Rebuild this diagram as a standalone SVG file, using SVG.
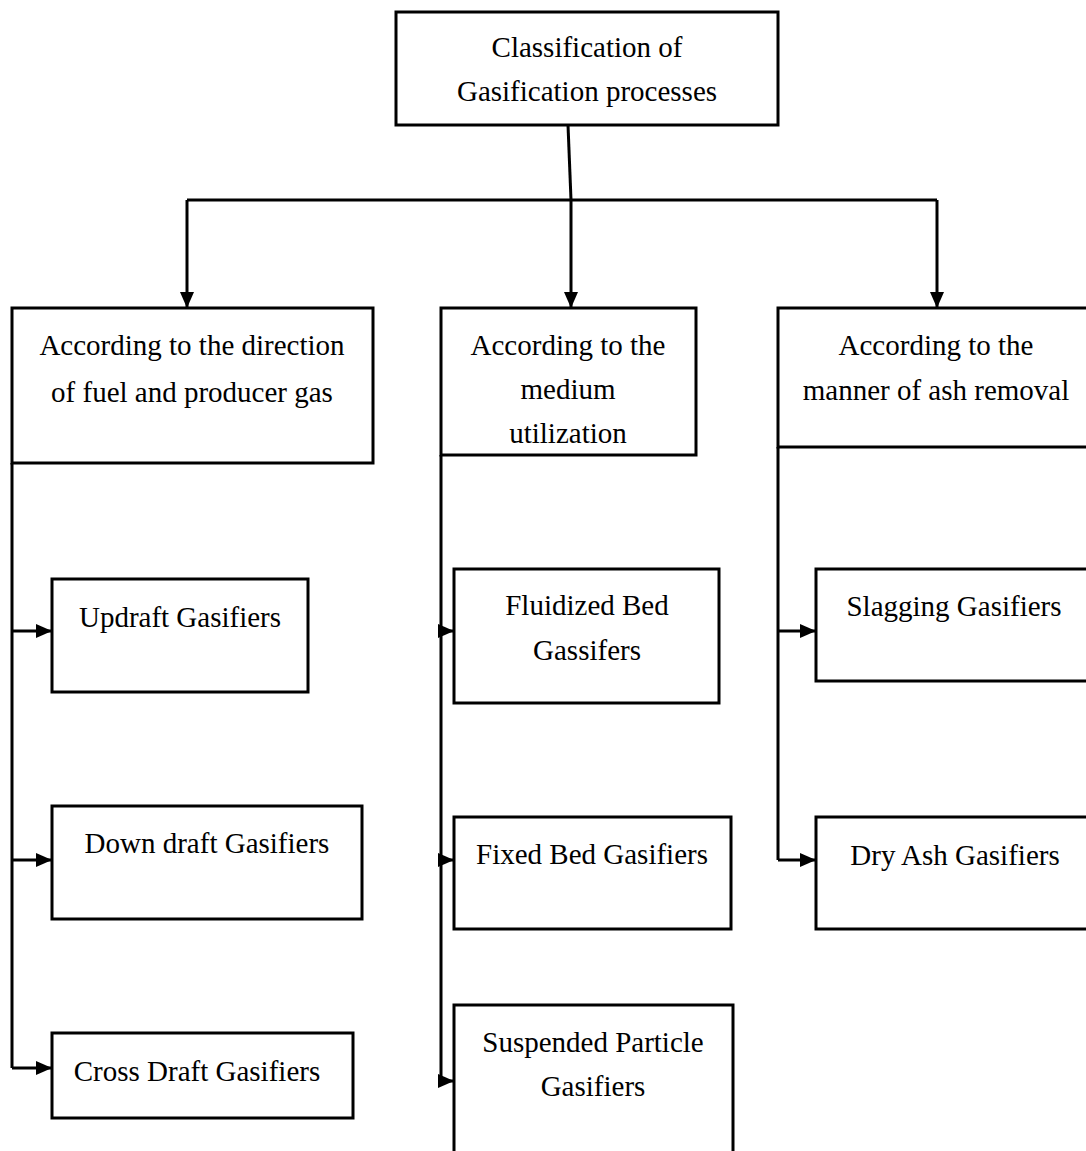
<svg xmlns="http://www.w3.org/2000/svg" width="1086" height="1151" viewBox="0 0 1086 1151">
<style>
.box{fill:#fff;stroke:#000;stroke-width:3}
.t{font-family:"Liberation Serif","Times New Roman","DejaVu Serif",serif;font-size:29px;fill:#000;text-anchor:middle}
.c{fill:none;stroke:#000;stroke-width:3}
</style>
<defs>
<marker id="ah" markerWidth="16" markerHeight="14" refX="15" refY="7" orient="auto" markerUnits="userSpaceOnUse">
<path d="M0,0 L16,7 L0,14 Z" fill="#000"/>
</marker>
</defs>
<rect width="1086" height="1151" fill="#fff"/>
<g id="connectors">
<path class="c" d="M568,125 L571,200"/>
<path class="c" d="M187,200 L937,200"/>
<path class="c" d="M187,200 L187,307" marker-end="url(#ah)"/>
<path class="c" d="M571,200 L571,307" marker-end="url(#ah)"/>
<path class="c" d="M937,200 L937,307" marker-end="url(#ah)"/>
<path class="c" d="M12,463 L12,1068"/>
<path class="c" d="M12,631 L51,631" marker-end="url(#ah)"/>
<path class="c" d="M12,860 L51,860" marker-end="url(#ah)"/>
<path class="c" d="M12,1068 L51,1068" marker-end="url(#ah)"/>
<path class="c" d="M441,455 L441,1081"/>
<path class="c" d="M441,631 L453,631" marker-end="url(#ah)"/>
<path class="c" d="M441,860 L453,860" marker-end="url(#ah)"/>
<path class="c" d="M441,1081 L453,1081" marker-end="url(#ah)"/>
<path class="c" d="M778,447 L778,860"/>
<path class="c" d="M778,631 L815,631" marker-end="url(#ah)"/>
<path class="c" d="M778,860 L815,860" marker-end="url(#ah)"/>
</g>
<g id="root">
<rect class="box" x="396" y="12" width="382" height="113"/>
<text class="t" x="587" y="57">Classification of</text>
<text class="t" x="587" y="101">Gasification processes</text>
</g>
<g id="direction">
<rect class="box" x="12" y="308" width="361" height="155"/>
<text class="t" x="192" y="355">According to the direction</text>
<text class="t" x="192" y="402">of fuel and producer gas</text>
</g>
<g id="medium">
<rect class="box" x="441" y="308" width="255" height="147"/>
<text class="t" x="568" y="355">According to the</text>
<text class="t" x="568" y="399">medium</text>
<text class="t" x="568" y="443">utilization</text>
</g>
<g id="ash">
<rect class="box" x="778" y="308" width="320" height="139"/>
<text class="t" x="936" y="355">According to the</text>
<text class="t" x="936" y="400">manner of ash removal</text>
</g>
<g id="updraft">
<rect class="box" x="52" y="579" width="256" height="113"/>
<text class="t" x="180" y="627">Updraft Gasifiers</text>
</g>
<g id="downdraft">
<rect class="box" x="52" y="806" width="310" height="113"/>
<text class="t" x="207" y="853">Down draft Gasifiers</text>
</g>
<g id="crossdraft">
<rect class="box" x="52" y="1033" width="301" height="85"/>
<text class="t" x="197" y="1081">Cross Draft Gasifiers</text>
</g>
<g id="fluidized">
<rect class="box" x="454" y="569" width="265" height="134"/>
<text class="t" x="587" y="615">Fluidized Bed</text>
<text class="t" x="587" y="660">Gassifers</text>
</g>
<g id="fixedbed">
<rect class="box" x="454" y="817" width="277" height="112"/>
<text class="t" x="592" y="864">Fixed Bed Gasifiers</text>
</g>
<g id="suspended">
<rect class="box" x="454" y="1005" width="279" height="160"/>
<text class="t" x="593" y="1052">Suspended Particle</text>
<text class="t" x="593" y="1096">Gasifiers</text>
</g>
<g id="slagging">
<rect class="box" x="816" y="569" width="282" height="112"/>
<text class="t" x="954" y="616">Slagging Gasifiers</text>
</g>
<g id="dryash">
<rect class="box" x="816" y="817" width="282" height="112"/>
<text class="t" x="955" y="865">Dry Ash Gasifiers</text>
</g>
</svg>
